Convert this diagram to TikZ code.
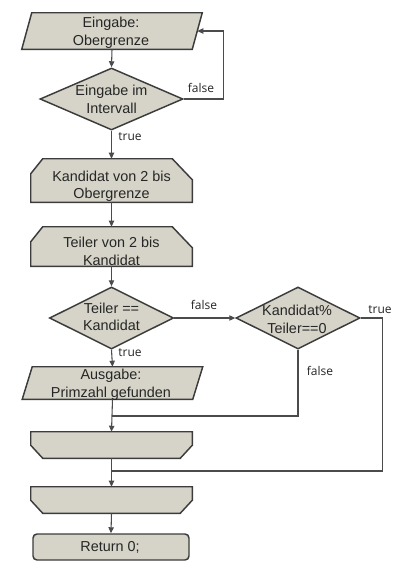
\documentclass[tikz,border=0pt]{standalone}
\usepackage{fontspec}
\setmainfont{Liberation Sans}
\newfontfamily\lblfont{Open Sans}
\usetikzlibrary{shapes.geometric,arrows.meta,calc}
\newcommand\pxu{0.75pt}
\definecolor{shapefill}{RGB}{214,212,200}
\definecolor{edgec}{RGB}{60,60,60}
\definecolor{linec}{RGB}{75,75,75}
\begin{document}
\begin{tikzpicture}[x=0.75pt,y=-0.75pt,
  shp/.style={draw=edgec, fill=shapefill, line width=1.1pt, inner sep=0pt},
  pbox/.style={rectangle, draw=none, inner sep=0pt, minimum width=180*\pxu},
  lbox/.style={rectangle, draw=none, inner sep=0pt, minimum width=161*\pxu},
  dia/.style={shp, diamond, minimum height=62*\pxu},
  term/.style={shp, rectangle, rounded corners=4*\pxu, minimum width=156*\pxu, minimum height=26*\pxu},
  txt/.style={font=\fontsize{10.8}{13.1}\selectfont, align=center, inner sep=0pt, text=black!85},
  lbl/.style={font=\lblfont\fontsize{9}{11}\selectfont, inner sep=0pt, text=black!85},
  conn/.style={draw=linec, line width=0.8pt},
  arr/.style={conn, -{Triangle[length=4.5pt,width=4pt]}}
]
\fill[white] (0,0) rectangle (405,572);
\useasboundingbox (0,0) rectangle (405,572);

% input parallelogram
\node[pbox, minimum height=36*\pxu] (in1) at (112,31) {};
\filldraw[shp] (in1.south west) -- ($(in1.north west)+(10,0)$) -- (in1.north east)
   -- ($(in1.south east)+(-10,0)$) -- cycle;
\node[txt] (in1t) at (111,33) {Eingabe:\\Obergrenze};

\node[dia, minimum width=143*\pxu] (d1) at (111.5,99) {};
\node[txt] (d1t) at (111.5,99.5) {Eingabe im\\Intervall};

% loop start 1
\node[lbox, minimum height=43*\pxu] (ls1) at (111.5,180.5) {};
\filldraw[shp] (ls1.south west) -- ($(ls1.north west)+(0,15)$) -- ($(ls1.north west)+(12,0)$)
   -- ($(ls1.north east)+(-20,0)$) -- ($(ls1.north east)+(0,21)$) -- (ls1.south east) -- cycle;
\node[txt] (ls1t) at (111.5,186.5) {Kandidat von 2 bis\\Obergrenze};

% loop start 2
\node[lbox, minimum height=39*\pxu] (ls2) at (111.5,246.5) {};
\filldraw[shp] (ls2.south west) -- ($(ls2.north west)+(0,15)$) -- ($(ls2.north west)+(12,0)$)
   -- ($(ls2.north east)+(-20,0)$) -- ($(ls2.north east)+(0,21)$) -- (ls2.south east) -- cycle;
\node[txt] (ls2t) at (111.5,251.5) {Teiler von 2 bis\\Kandidat};

\node[dia, minimum width=124*\pxu] (d2) at (111.5,318) {};
\node[txt] (d2t) at (111.5,317) {Teiler ==\\Kandidat};

\node[dia, minimum width=124*\pxu] (d3) at (298,318) {};
\node[txt] (d3t) at (297,319.5) {Kandidat\%\\Teiler==0};

% output parallelogram
\node[pbox, minimum height=32*\pxu] (out) at (112.5,383) {};
\filldraw[shp] (out.south west) -- ($(out.north west)+(10,0)$) -- (out.north east)
   -- ($(out.south east)+(-10,0)$) -- cycle;
\node[txt] (outt) at (111,385) {Ausgabe:\\Primzahl gefunden};

% loop ends
\node[lbox, minimum height=26*\pxu] (le1) at (111.5,445) {};
\filldraw[shp] (le1.north west) -- (le1.north east) -- ($(le1.south east)+(0,-13)$)
   -- ($(le1.south east)+(-12,0)$) -- ($(le1.south west)+(12,0)$) -- ($(le1.south west)+(0,-13)$) -- cycle;
\node[lbox, minimum height=26*\pxu] (le2) at (111.5,500) {};
\filldraw[shp] (le2.north west) -- (le2.north east) -- ($(le2.south east)+(0,-13)$)
   -- ($(le2.south east)+(-12,0)$) -- ($(le2.south west)+(12,0)$) -- ($(le2.south west)+(0,-13)$) -- cycle;

\node[term] (ret) at (111,547) {};
\node[txt] (rett) at (110,547) {Return 0;};

\coordinate (j1) at (111.5,416);
\coordinate (j2) at (111.5,471);

% connectors
\draw[arr] (in1.south) -- (d1.north);
\draw[arr] (d1.east) -- ++(40,0) |- ($(in1.east)+(-5,0)$);
\draw[arr] (d1.south) -- (ls1.north);
\draw[arr] (ls1.south) -- (ls2.north);
\draw[arr] (ls2.south) -- (d2.north);
\draw[arr] (d2.east) -- (d3.west);
\draw[arr] (d2.south) -- (out.north);
\draw[arr] (out.south) -- (le1.north);
\draw[conn] (d3.south) |- (j1);
\draw[conn] (d3.east) -- ++(22,0) |- (j2);
\draw[arr] (le1.south) -- (le2.north);
\draw[arr] (le2.south) -- (ret.north);

% labels
\node[lbl] (l1) at (201,88) {false};
\node[lbl] (l2) at (130,137) {true};
\node[lbl] (l3) at (204,305) {false};
\node[lbl] (l4) at (380,310) {true};
\node[lbl] (l5) at (130,353) {true};
\node[lbl] (l6) at (320,371) {false};
\end{tikzpicture}
\end{document}
